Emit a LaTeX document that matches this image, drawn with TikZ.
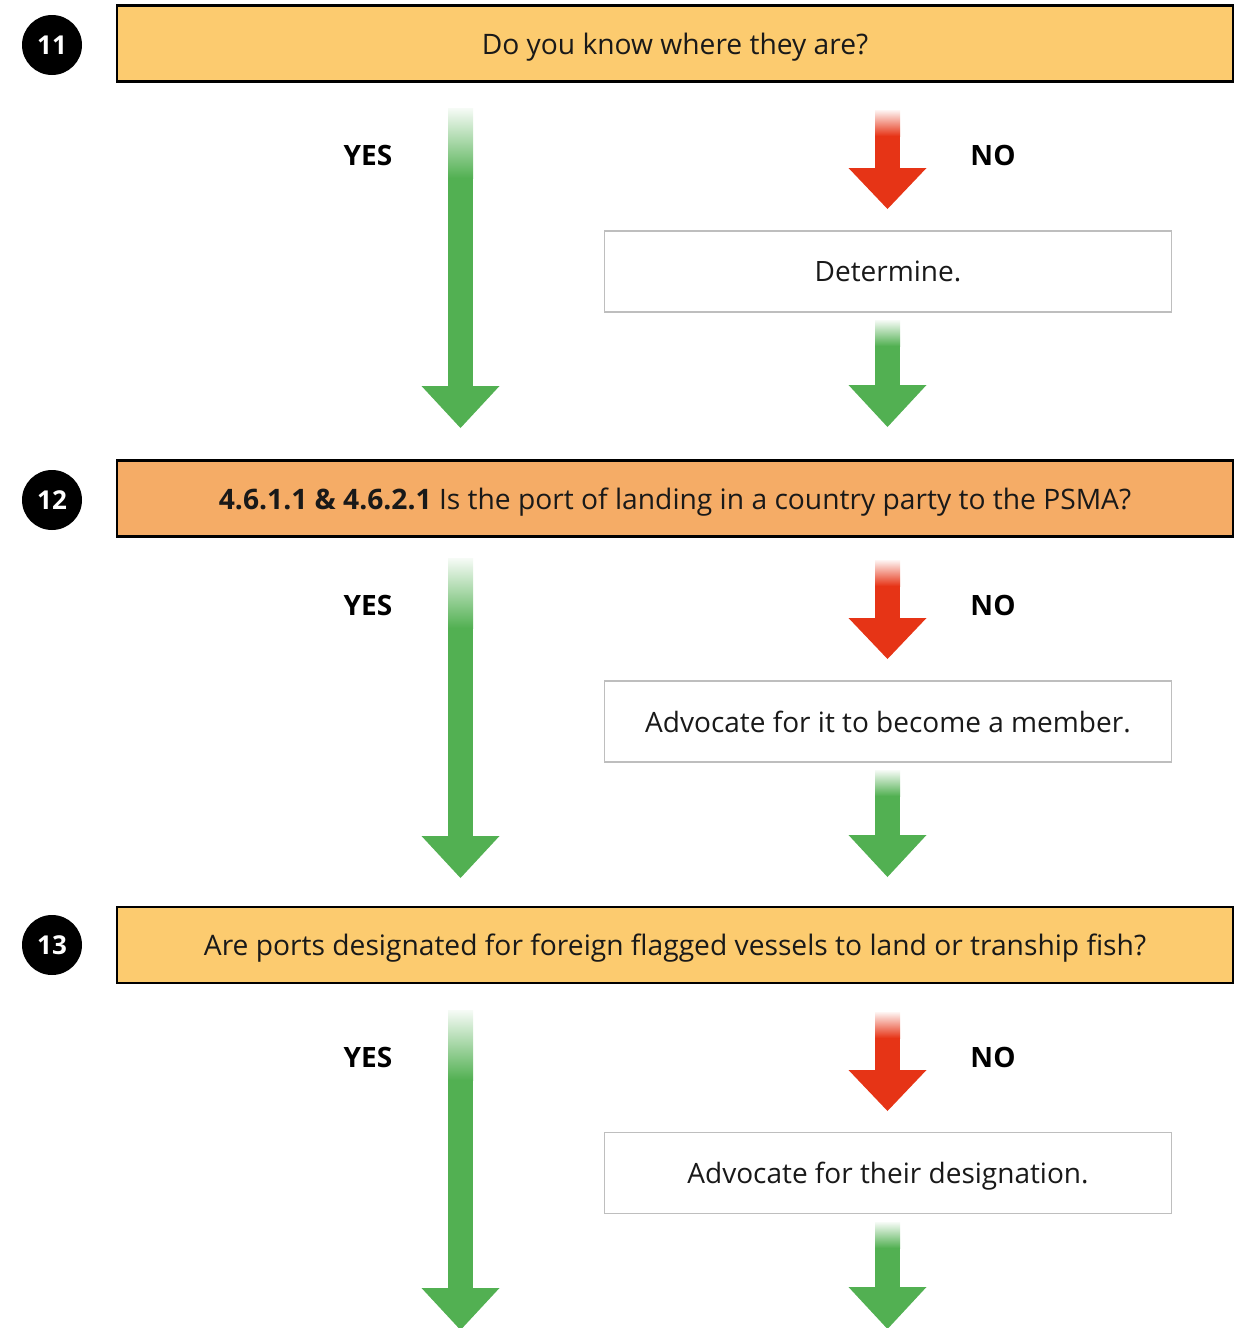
\documentclass[tikz,border=0pt]{standalone}
\usepackage{fontspec}
\setmainfont{Open Sans}
\definecolor{boxyellow}{RGB}{252,203,111}
\definecolor{boxorange}{RGB}{245,172,102}
\definecolor{arrgreen}{RGB}{82,176,82}
\definecolor{arrred}{RGB}{230,52,22}
\definecolor{graybord}{RGB}{190,190,190}
\newcommand\flowarrow[6]{%
  \shade[top color=#1!5, bottom color=#1] (#2-12.5,#3) rectangle (#2+12.5,#4);
  \fill[#1] (#2-12.5,#4-0.5) rectangle (#2+12.5,#5+0.5);
  \fill[#1] (#2-39,#5) -- (#2+39,#5) -- (#2,#6) -- cycle;}
\begin{document}
\begin{tikzpicture}[x=1pt,y=-1pt,
  qbox/.style={draw=black, line width=2.4pt, minimum width=1116pt, minimum height=76pt, inner sep=0pt,
    text depth=0pt, font=\fontsize{28.2}{32}\selectfont, text=black!90},
  abox/.style={draw=graybord, line width=1.2pt, fill=white, minimum width=567pt, minimum height=81pt, inner sep=0pt,
    text depth=0pt, font=\fontsize{28}{32}\selectfont, text=black!90},
  num/.style={circle, fill=black, minimum size=60pt, inner sep=0pt, text=white,
    font=\fontsize{26}{30}\selectfont\bfseries},
  lab/.style={font=\fontsize{28}{32}\selectfont\bfseries, text=black, inner sep=0pt}]
\useasboundingbox (0,0) rectangle (1247,1328);
\clip (0,0) rectangle (1247,1328);

% section 11
\node[num] (n11) at (52,45) {11};
\node[qbox, fill=boxyellow] (q11) at (675,43.5) {Do you know where they are?};
\node[lab] (yes11) at (368,155) {YES};
\node[lab] (no11) at (993,155) {NO};
\node[abox] (a11) at (888,271.5) {Determine.};
\flowarrow{arrgreen}{460.5}{108}{178}{386}{428}
\flowarrow{arrred}{887.5}{110}{136}{168}{209}
\flowarrow{arrgreen}{887.5}{320}{346}{385}{427}

% section 12
\node[num] (n12) at (52,500) {12};
\node[qbox, fill=boxorange] (q12) at (675,498.5) {\textbf{4.6.1.1 \& 4.6.2.1} Is the port of landing in a country party to the PSMA?};
\node[lab] (yes12) at (368,605) {YES};
\node[lab] (no12) at (993,605) {NO};
\node[abox] (a12) at (888,721.5) {Advocate for it to become a member.};
\flowarrow{arrgreen}{460.5}{558}{628}{836}{878}
\flowarrow{arrred}{887.5}{560}{586}{618}{659}
\flowarrow{arrgreen}{887.5}{770}{796}{835}{877}

% section 13
\node[num] (n13) at (52,945) {13};
\node[qbox, fill=boxyellow] (q13) at (675,945) {Are ports designated for foreign flagged vessels to land or tranship fish?};
\node[lab] (yes13) at (368,1057) {YES};
\node[lab] (no13) at (993,1057) {NO};
\node[abox] (a13) at (888,1173) {Advocate for their designation.};
\flowarrow{arrgreen}{460.5}{1010}{1080}{1288}{1330}
\flowarrow{arrred}{887.5}{1012}{1038}{1070}{1111}
\flowarrow{arrgreen}{887.5}{1222}{1248}{1287}{1329}
\end{tikzpicture}
\end{document}
